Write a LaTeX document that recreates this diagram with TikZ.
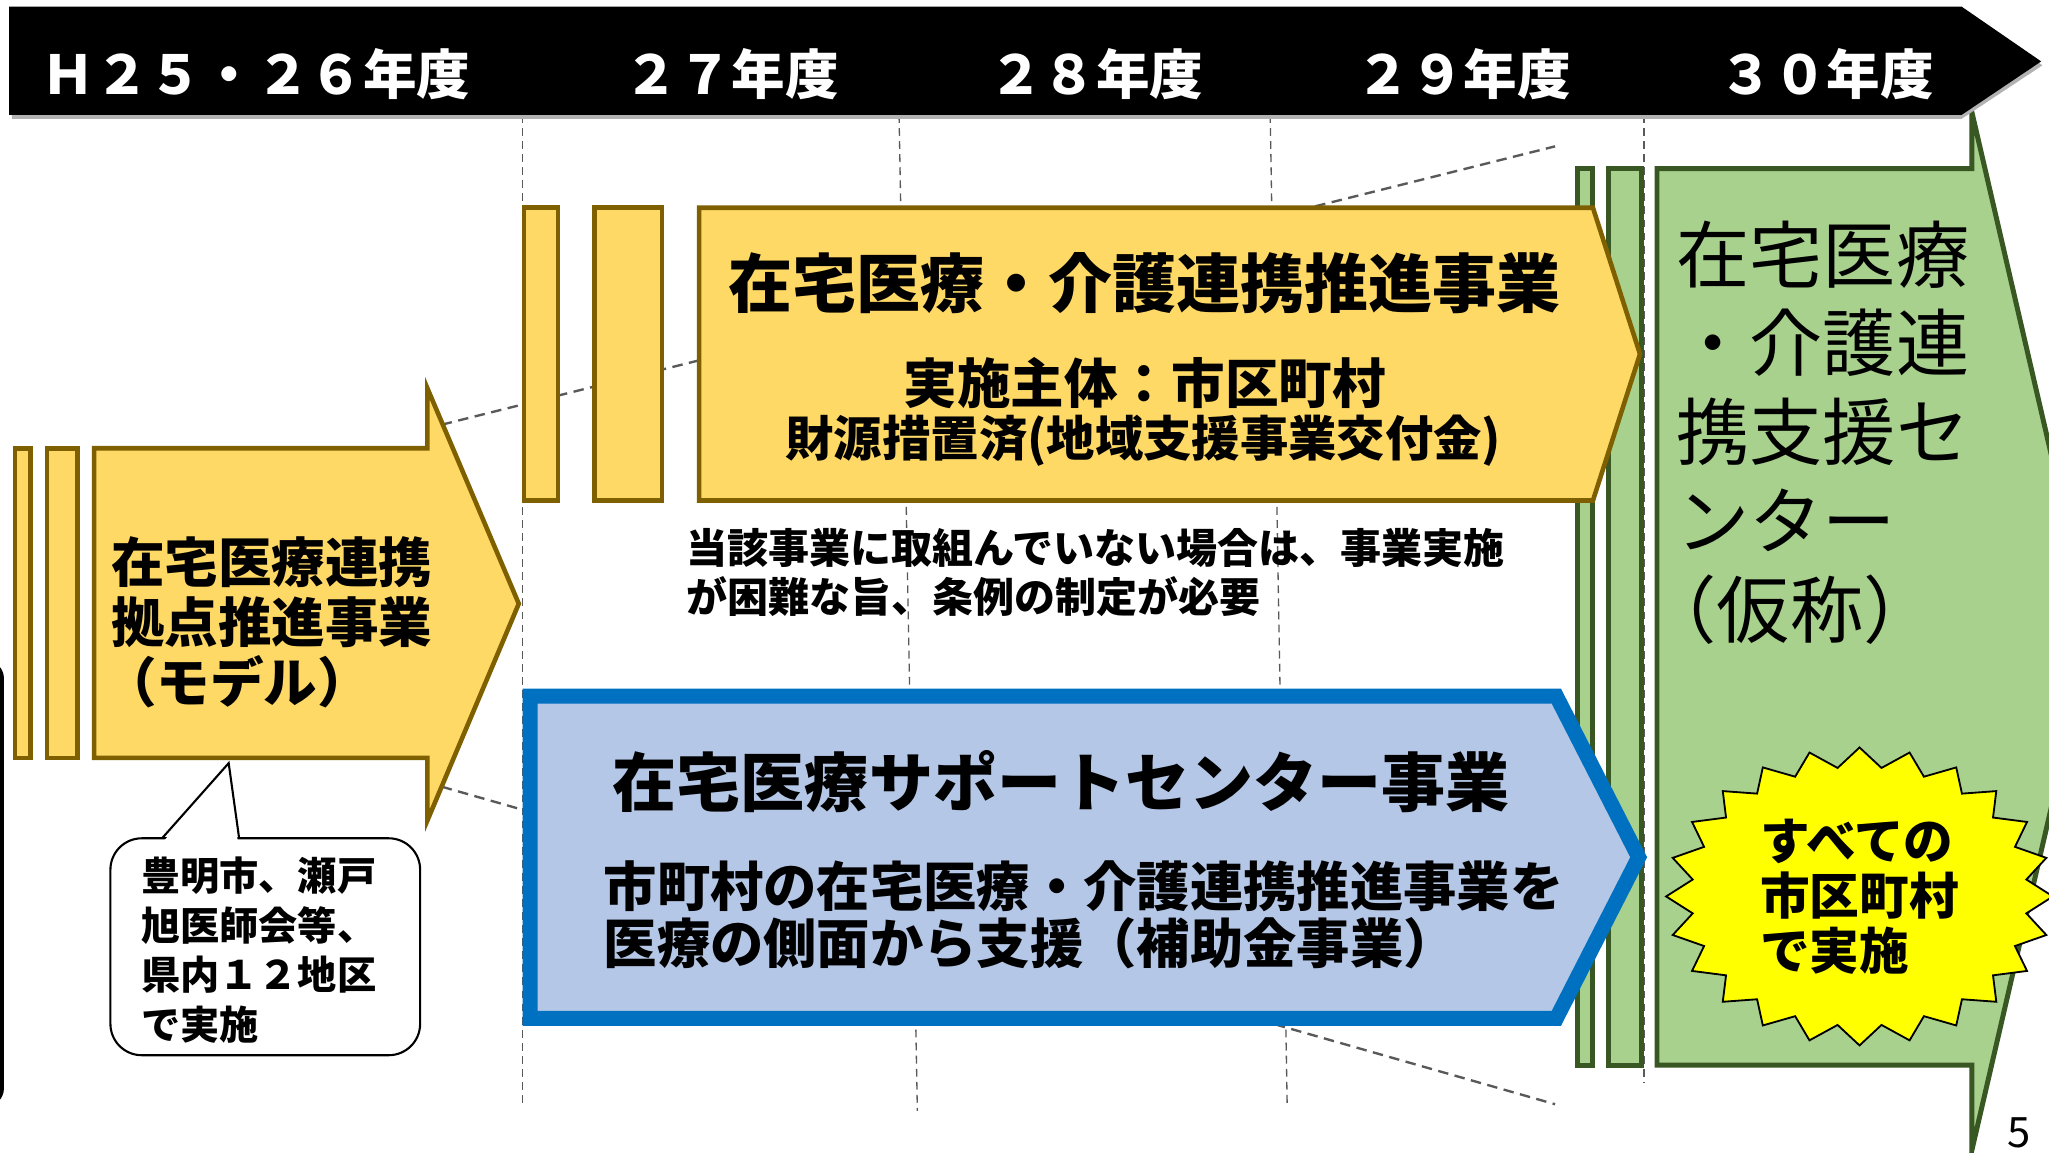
\documentclass[tikz,border=0pt]{standalone}
\usepackage{fontspec}
\setmainfont{Noto Sans CJK JP}
\usetikzlibrary{calc}
\definecolor{ylF}{HTML}{FFD966}
\definecolor{ylD}{HTML}{7F6000}
\definecolor{blF}{HTML}{B4C7E7}
\definecolor{blD}{HTML}{0070C0}
\definecolor{grF}{HTML}{A9D18E}
\definecolor{grD}{HTML}{385723}
\definecolor{guide}{HTML}{595959}
\definecolor{starY}{HTML}{FFFF00}
\newcommand\fz[2]{\fontsize{#1pt}{#2pt}\selectfont}
\begin{document}
\begin{tikzpicture}[x=0.5pt,y=-0.5pt,
  yl/.style={fill=ylF,draw=ylD,line width=1.75pt},
  bl/.style={fill=blF,draw=blD,line width=5.75pt},
  gr/.style={fill=grF,draw=grD,line width=1.9pt},
  vguide/.style={draw=guide,line width=0.5pt,dash pattern=on 3pt off 2pt},
  sguide/.style={draw=guide,line width=0.9pt,dash pattern=on 4pt off 2.5pt},
  lbl/.style={inner sep=0pt,outer sep=0pt,text=black},
  yearlbl/.style={inner sep=0pt,text=white,font=\bfseries\fz{20.5}{24}},
]
\useasboundingbox (0,0) rectangle (1568,882);
\clip (0,0) rectangle (1568,882);
\fill[white] (0,0) rectangle (1568,882);

% slanted guide lines
\coordinate (ua) at (338,325); \coordinate (ub) at (1190,112);
\coordinate (la) at (338,602); \coordinate (lb) at (1190,845);
\draw[sguide] (ua) -- (ub);
\draw[sguide] (la) -- (lb);
% vertical guide lines
\coordinate (vt1) at (400,88);  \coordinate (vb1) at (400,845);
\coordinate (vt2) at (688,88);  \coordinate (vb2) at (702,850);
\coordinate (vt3) at (972,88);  \coordinate (vb3) at (985,845);
\coordinate (vt4) at (1258,88); \coordinate (vb4) at (1258,829);
\foreach \n in {1,...,4} \draw[vguide] (vt\n) -- (vb\n);

% green arrow
\draw[gr] (1207,129) rectangle (1219,815);
\draw[gr] (1231,129) rectangle (1256,815);
\draw[gr] (1268,129) -- (1509,129) -- (1509,86) -- (1601,483) -- (1509,880) -- (1509,815) -- (1268,815) -- cycle;

% timeline bar
\fill[black!30] (9,8) -- (1501,8) -- (1563,50) -- (1501,91) -- (9,91) -- cycle;
\fill[black] (7,5) -- (1501,5) -- (1562,47) -- (1501,88) -- (7,88) -- cycle;
\node[yearlbl] (y1) at (196,57) {Ｈ２５・２６年度};
\node[yearlbl] (y2) at (560,57) {２７年度};
\node[yearlbl] (y3) at (839,57) {２８年度};
\node[yearlbl] (y4) at (1120,57) {２９年度};
\node[yearlbl] (y5) at (1398,57) {３０年度};

% left yellow arrow
\draw[yl] (11.5,343) rectangle (23.5,580);
\draw[yl] (36,343) rectangle (59.5,580);
\draw[yl] (72,343) -- (327,343) -- (327,297) -- (397,462) -- (327,628) -- (327,580) -- (72,580) -- cycle;
\node[lbl,anchor=west,align=left,font=\bfseries\fz{20.5}{23}] (t1) at (85,476) {在宅医療連携\\拠点推進事業\\\kern-0.15em（モデル）};

% callout
\draw[line width=0.8pt,fill=white,rounded corners=12pt] (84.5,641.5) rectangle (321.5,807.5);
\fill[white] (125,644) -- (175,586) -- (182,644) -- cycle;
\draw[line width=0.8pt] (124,641.5) -- (175,584) -- (183,641.5);
\node[lbl,anchor=west,align=left,font=\bfseries\fz{15}{19}] (t2) at (108,727) {豊明市、瀬戸\\旭医師会等、\\県内１２地区\\で実施};

% top yellow
\draw[yl] (401,159) rectangle (427,383);
\draw[yl] (455,159) rectangle (506.5,383);
\draw[yl] (535,159) -- (1219,159) -- (1255,271) -- (1219,383) -- (535,383) -- cycle;
\node[lbl,font=\bfseries\fz{24.5}{28}] (t3) at (876,217) {在宅医療・介護連携推進事業};
\node[lbl,font=\bfseries\fz{20.5}{24}] (t4) at (876,293) {実施主体：市区町村};
\node[lbl,font=\bfseries\fz{18.5}{22}] (t5) at (875,337) {財源措置済(地域支援事業交付金)};

% note
\node[lbl,anchor=west,align=left,font=\bfseries\fz{15.7}{18.5}] (t6) at (525,438) {当該事業に取組んでいない場合は、事業実施\\が困難な旨、条例の制定が必要};

% blue
\draw[bl] (405.75,532.75) -- (1191,532.75) -- (1254,656) -- (1191,779.25) -- (405.75,779.25) -- cycle;
\node[lbl,font=\bfseries\fz{24.5}{28}] (t7) at (812,598) {在宅医療サポートセンター事業};
\node[lbl,anchor=west,align=left,font=\bfseries\fz{20.4}{22}] (t8) at (462,700) {市町村の在宅医療・介護連携推進事業を\\医療の側面から支援（補助金事業）};

% green text
\node[lbl,anchor=west,align=left,font=\fz{28}{34}] (t9) at (1283,331) {在宅医療\\・介護連\\携支援セ\\ンター\\\kern-0.45em（仮称）};

% star
\filldraw[fill=starY,draw=black,line width=0.7pt,shift={(1423,686)}] (0:148 and 114)
  \foreach \i [evaluate=\i as \r using {1-0.13*mod(\i,2)}] in {1,...,47} { -- ({\i*7.5}:{148*\r} and {114*\r}) } -- cycle;
\node[lbl,align=left,font=\bfseries\fz{19}{21}] (t10) at (1423,686) {すべての\\市区町村\\で実施};

% page number
\node[lbl,anchor=base west,font=\fz{16}{18}] (pg) at (1536,878) {5};

% left edge fragment
\draw[line width=1.5pt,rounded corners=6pt] (-20,507) -- (1.5,507) -- (1.5,845) -- (-20,845);
\end{tikzpicture}
\end{document}
